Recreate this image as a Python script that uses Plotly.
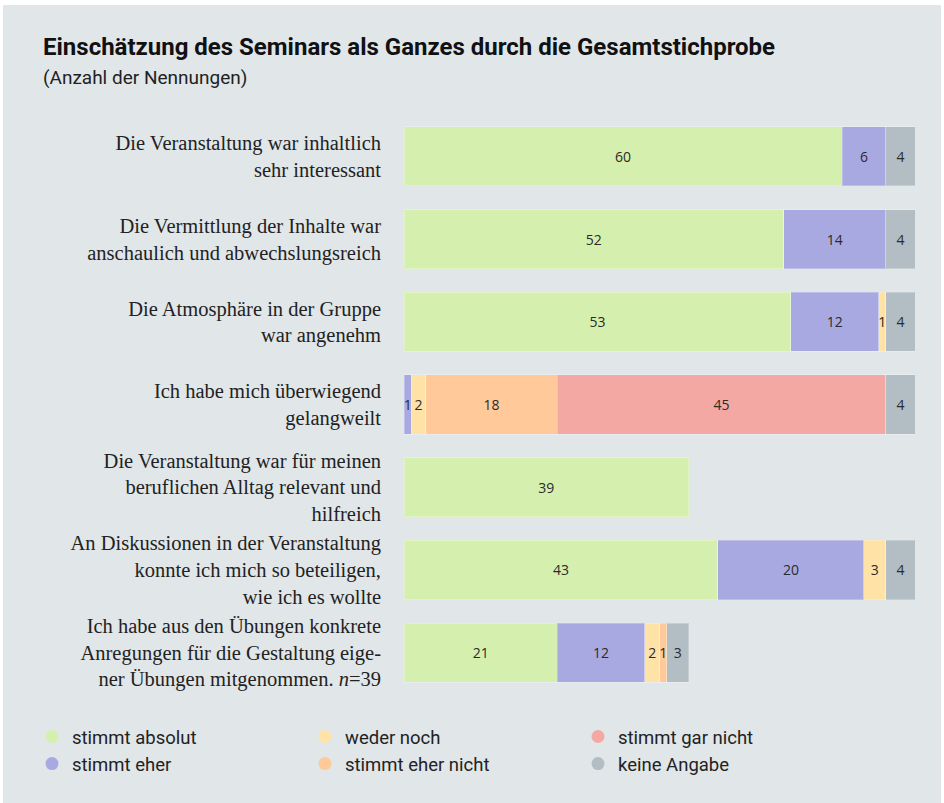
import plotly.graph_objects as go

categories = [
    "Die Veranstaltung war inhaltlich<br>sehr interessant",
    "Die Vermittlung der Inhalte war<br>anschaulich und abwechslungsreich",
    "Die Atmosphäre in der Gruppe<br>war angenehm",
    "Ich habe mich überwiegend<br>gelangweilt",
    "Die Veranstaltung war für meinen<br>beruflichen Alltag relevant und<br>hilfreich",
    "An Diskussionen in der Veranstaltung<br>konnte ich mich so beteiligen,<br>wie ich es wollte",
    "Ich habe aus den Übungen konkrete<br>Anregungen für die Gestaltung eige-<br>ner Übungen mitgenommen. <i>n</i>=39",
]

stimmt_absolut = [60, 52, 53, None, 39, 43, 21]
stimmt_eher = [6, 14, 12, 1, None, 20, 12]
weder_noch = [None, None, 1, 2, None, 3, 2]
stimmt_eher_nicht = [None, None, None, 18, None, None, 1]
stimmt_gar_nicht = [None, None, None, 45, None, None, None]
keine_angabe = [4, 4, 4, 4, None, 4, 3]

series = [
    ("stimmt absolut", stimmt_absolut, "#D5F0AE"),
    ("stimmt eher", stimmt_eher, "#A9A9E1"),
    ("weder noch", weder_noch, "#FFE2A6"),
    ("stimmt eher nicht", stimmt_eher_nicht, "#FFC999"),
    ("stimmt gar nicht", stimmt_gar_nicht, "#F4A8A3"),
    ("keine Angabe", keine_angabe, "#B2BEC3"),
]
legend_order = ["stimmt absolut", "weder noch", "stimmt gar nicht",
                "stimmt eher", "stimmt eher nicht", "keine Angabe"]

W, H = 944, 803
L, R, T, B = 404, 29, 115, 109
pw, ph = W - L - R, H - T - B

def px_x(x):
    return (x - L) / pw

def px_y(y):
    return (H - B - y) / ph

SANS = "Roboto, sans-serif"

fig = go.Figure()
for name, vals, color in series:
    fig.add_trace(go.Bar(
        y=categories, x=vals, orientation="h", name=name,
        marker=dict(color=color, line=dict(color="rgba(255,255,255,0.25)", width=1)),
        text=[("" if v is None else str(v)) for v in vals],
        textposition="inside", insidetextanchor="middle",
        textfont=dict(family="Open Sans, sans-serif", size=14, color="#2b2b2b"),
        showlegend=False, hoverinfo="skip", cliponaxis=False,
    ))

color_map = {n: c for n, _, c in series}
for name in legend_order:
    fig.add_trace(go.Scatter(
        x=[None], y=[None], mode="markers", name=name,
        marker=dict(color=color_map[name], size=13, symbol="circle"),
        showlegend=True,
    ))

fig.update_layout(
    width=W, height=H,
    margin=dict(l=L, r=R, t=T, b=B, autoexpand=False),
    barmode="stack", bargap=0.285,
    paper_bgcolor="white", plot_bgcolor="rgba(0,0,0,0)",
    uniformtext=dict(minsize=14, mode="show"),
    xaxis=dict(range=[0, 70], visible=False, fixedrange=True),
    yaxis=dict(autorange="reversed", showgrid=False, zeroline=False, showline=False,
               ticks="", ticklabelstandoff=22, fixedrange=True,
               tickfont=dict(family="Liberation Serif, serif", size=20.5, color="#222222")),
    legend=dict(orientation="h", x=px_x(32), y=px_y(718), xanchor="left", yanchor="top",
                traceorder="normal",
                entrywidth=228, entrywidthmode="pixels", bgcolor="rgba(0,0,0,0)",
                font=dict(family=SANS, size=18.5, color="#222222"),
                itemclick=False, itemdoubleclick=False, tracegroupgap=0),
    shapes=[dict(type="rect", xref="paper", yref="paper",
                 x0=px_x(3), x1=px_x(941), y0=px_y(803), y1=px_y(5),
                 fillcolor="#E1E6E9", line=dict(width=0), layer="below")],
    annotations=[
        dict(text="<b>Einschätzung des Seminars als Ganzes durch die Gesamtstichprobe</b>",
             xref="paper", yref="paper", x=px_x(41), y=px_y(47), xanchor="left", yanchor="middle",
             showarrow=False,
             font=dict(family=SANS, size=24, color="#111111")),
        dict(text="(Anzahl der Nennungen)",
             xref="paper", yref="paper", x=px_x(41), y=px_y(78), xanchor="left", yanchor="middle",
             showarrow=False,
             font=dict(family=SANS, size=19, color="#222222")),
    ],
)

fig.write_html("out.html", config={"displayModeBar": False},
               post_script="document.body.style.margin='0';")
